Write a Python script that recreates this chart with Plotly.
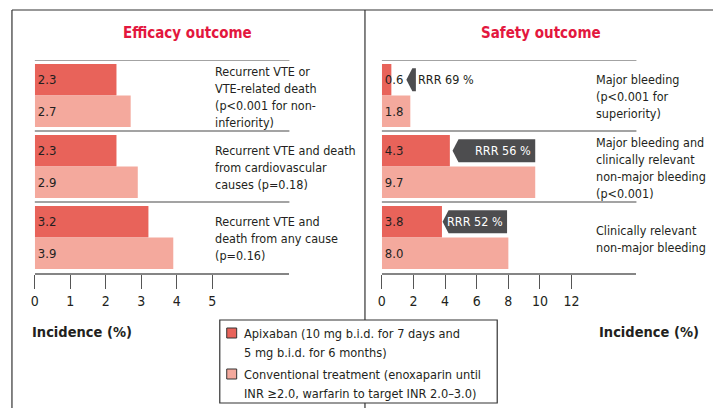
import plotly.graph_objects as go

# ---------------- data ----------------
efficacy_outcomes = [
    ["Recurrent VTE or", "VTE-related death", "(p<0.001 for non-", "inferiority)"],
    ["Recurrent VTE and death", "from cardiovascular", "causes (p=0.18)"],
    ["Recurrent VTE and", "death from any cause", "(p=0.16)"],
]
efficacy_apixaban = [2.3, 2.3, 3.2]
efficacy_conventional = [2.7, 2.9, 3.9]
efficacy_ticks = [0, 1, 2, 3, 4, 5]

safety_outcomes = [
    ["Major bleeding", "(p<0.001 for", "superiority)"],
    ["Major bleeding and", "clinically relevant", "non-major bleeding", "(p<0.001)"],
    ["Clinically relevant", "non-major bleeding"],
]
safety_apixaban = [0.6, 4.3, 3.8]
safety_conventional = [1.8, 9.7, 8.0]
safety_ticks = [0, 2, 4, 6, 8, 10, 12]
safety_rrr = ["RRR 69 %", "RRR 56 %", "RRR 52 %"]

panel_titles = ["Efficacy outcome", "Safety outcome"]
axis_title = "Incidence (%)"
series_names = ["Apixaban", "Conventional treatment"]
legend_lines = [
    ["Apixaban (10 mg b.i.d. for 7 days and", "5 mg b.i.d. for 6 months)"],
    ["Conventional treatment (enoxaparin until", "INR \u22652.0, warfarin to target INR 2.0\u20133.0)"],
]

# ---------------- style / layout ----------------
W, H = 713, 408
FONT = "Liberation Sans Narrow, Arial Narrow, DejaVu Sans Condensed, sans-serif"
TXT = "#231f20"
RED = "#e3173e"
C_APIX = "#e8635a"
C_CONV = "#f4a99d"
GREY = "#858585"
DARK = "#4d4d4f"
FRAME = "#333333"
BARGAP = 0.113
FS_BODY = 12.5
FS_VAL = 13
FS_LEG = 12.7
PAD = -2  # compensates annotation inner padding

def px(x):
    return x / W

def py(y):
    return 1 - y / H

Y_TOP, Y_BOT = 60, 273
L_X0, L_X1, L_SCALE = 31, 287, 35.7
R_X0, R_X1, R_SCALE = 380, 636, 15.9

eff_cats = [" ".join(l) for l in efficacy_outcomes]
saf_cats = [" ".join(l) for l in safety_outcomes]

fig = go.Figure()

def add_bars(cats, apix, conv, xa, ya):
    for vals, col, name in [(apix, C_APIX, series_names[0]), (conv, C_CONV, series_names[1])]:
        fig.add_trace(go.Bar(
            orientation="h", y=cats, x=vals, name=name, marker=dict(color=col, line=dict(width=0)),
            text=[f"{v:.1f}" for v in vals], textposition="inside", insidetextanchor="start",
            constraintext="none", textangle=0, textfont=dict(family=FONT, size=FS_VAL, color=TXT),
            insidetextfont=dict(family=FONT, size=FS_VAL, color=TXT),
            xaxis=xa, yaxis=ya, showlegend=False, hoverinfo="skip", cliponaxis=False,
        ))

add_bars(eff_cats, efficacy_apixaban, efficacy_conventional, "x", "y")
add_bars(saf_cats, safety_apixaban, safety_conventional, "x2", "y2")

def xaxis_cfg(x0, x1, scale, ticks, anchor):
    return dict(
        domain=[px(x0), px(x1)], range=[0, (x1 - x0) / scale], showgrid=False, zeroline=False,
        showline=True, linecolor=GREY, linewidth=1.5, ticks="outside", ticklen=14,
        tickcolor="#555555", tickwidth=1.2, tickvals=ticks, ticktext=[str(t) for t in ticks],
        tickfont=dict(family=FONT, size=14, color=TXT), fixedrange=True, anchor=anchor,
    )

def yaxis_cfg(cats, anchor):
    return dict(
        domain=[py(Y_BOT), py(Y_TOP)], type="category", categoryarray=cats,
        range=[len(cats) - 0.5, -0.5], showticklabels=False, showgrid=False, zeroline=False,
        showline=False, ticks="", anchor=anchor, fixedrange=True,
    )

shapes = []
annotations = []

# separators
for ya, cats in [("y", eff_cats), ("y2", saf_cats)]:
    xr = "x domain" if ya == "y" else "x2 domain"
    for i in range(len(cats)):
        shapes.append(dict(type="line", xref=xr, yref=ya, x0=0, x1=1, y0=i - 0.5, y1=i - 0.5,
                           line=dict(color=GREY, width=1.6)))

# frame
shapes.append(dict(type="line", xref="paper", yref="paper", x0=px(8), x1=1, y0=py(10), y1=py(10),
                   line=dict(color=FRAME, width=1.2)))
shapes.append(dict(type="line", xref="paper", yref="paper", x0=px(8), x1=px(8), y0=py(10), y1=0,
                   line=dict(color=FRAME, width=1.2)))
shapes.append(dict(type="line", xref="paper", yref="paper", x0=px(363), x1=px(363), y0=py(10), y1=0,
                   line=dict(color=FRAME, width=1.2)))

# outcome descriptions
LINE_H = 17
for ya, xpos, groups in [("y", 212, efficacy_outcomes), ("y2", 595, safety_outcomes)]:
    cats = [" ".join(l) for l in groups]
    for cat, lines in zip(cats, groups):
        n = len(lines)
        for k, line in enumerate(lines):
            annotations.append(dict(
                xref="paper", yref=ya, x=px(xpos), y=cat, text=line, showarrow=False,
                xanchor="left", yanchor="middle", xshift=PAD,
                yshift=((n - 1) / 2 - k) * LINE_H - 1,
                font=dict(family=FONT, size=FS_BODY, color=TXT),
            ))

# RRR callouts (tip / end positions in data units of the safety axis)
callout_tip = [1.55, 4.47, 3.84]
callout_end = [2.15, 9.7, 7.92]
band = (Y_BOT - Y_TOP) / len(saf_cats)
bar_h = band * (1 - BARGAP) / 2
CALL_H = 23
tip_w = 6 / R_SCALE
for i, (lab, tip, end) in enumerate(zip(safety_rrr, callout_tip, callout_end)):
    yc = Y_TOP + band * i + band * BARGAP / 2 + bar_h / 2
    yt, yb = py(yc - CALL_H / 2), py(yc + CALL_H / 2)
    yc_p = py(yc)
    path = (f"M {tip},{yc_p} L {tip + tip_w},{yt} L {end},{yt} L {end},{yb} "
            f"L {tip + tip_w},{yb} Z")
    shapes.append(dict(type="path", xref="x2", yref="paper", path=path,
                       fillcolor=DARK, line=dict(width=0)))
    if i == 0:
        annotations.append(dict(xref="x2", yref="paper", x=end, y=yc_p, text=lab, showarrow=False,
                                xanchor="left", yanchor="middle", xshift=0,
                                font=dict(family=FONT, size=FS_BODY, color=TXT)))
    else:
        annotations.append(dict(xref="x2", yref="paper", x=end, y=yc_p, text=lab, showarrow=False,
                                xanchor="right", yanchor="middle", xshift=-2,
                                font=dict(family=FONT, size=FS_BODY, color="white")))

# panel titles
for t, xc in zip(panel_titles, [185, 540]):
    annotations.append(dict(xref="paper", yref="paper", x=px(xc), y=py(33), text=f"<b>{t}</b>",
                            showarrow=False, xanchor="center", yanchor="middle",
                            font=dict(family=FONT, size=15, color=RED)))

# axis titles
annotations.append(dict(xref="paper", yref="paper", x=px(28), y=py(332), text=f"<b>{axis_title}</b>",
                        showarrow=False, xanchor="left", yanchor="middle", xshift=PAD,
                        font=dict(family=FONT, size=14.5, color=TXT)))
annotations.append(dict(xref="paper", yref="paper", x=px(699), y=py(332), text=f"<b>{axis_title}</b>",
                        showarrow=False, xanchor="right", yanchor="middle", xshift=-PAD,
                        font=dict(family=FONT, size=14.5, color=TXT)))

# legend box
shapes.append(dict(type="rect", xref="paper", yref="paper", x0=px(217), x1=px(496), y0=py(403), y1=py(320),
                   fillcolor="white", line=dict(color=FRAME, width=1.2)))
legend_y = [[333, 352], [374, 393]]
for col, lines, ys in zip([C_APIX, C_CONV], legend_lines, legend_y):
    shapes.append(dict(type="rect", xref="paper", yref="paper", x0=px(224), x1=px(234),
                       y0=py(ys[0] + 5), y1=py(ys[0] - 5), fillcolor=col,
                       line=dict(color=FRAME, width=1)))
    for line, yy in zip(lines, ys):
        annotations.append(dict(xref="paper", yref="paper", x=px(241), y=py(yy), text=line,
                                showarrow=False, xanchor="left", yanchor="middle", xshift=PAD,
                                font=dict(family=FONT, size=FS_LEG, color=TXT)))

fig.update_layout(
    width=W, height=H, margin=dict(l=0, r=0, t=0, b=0),
    paper_bgcolor="white", plot_bgcolor="white",
    barmode="group", bargap=BARGAP, bargroupgap=0,
    xaxis=xaxis_cfg(L_X0, L_X1, L_SCALE, efficacy_ticks, "y"),
    xaxis2=xaxis_cfg(R_X0, R_X1, R_SCALE, safety_ticks, "y2"),
    yaxis=yaxis_cfg(eff_cats, "x"),
    yaxis2=yaxis_cfg(saf_cats, "x2"),
    shapes=shapes, annotations=annotations,
    font=dict(family=FONT, color=TXT), showlegend=False,
)

fig.write_html("out.html", config={"displayModeBar": False},
               post_script="document.body.style.margin='0px';")
